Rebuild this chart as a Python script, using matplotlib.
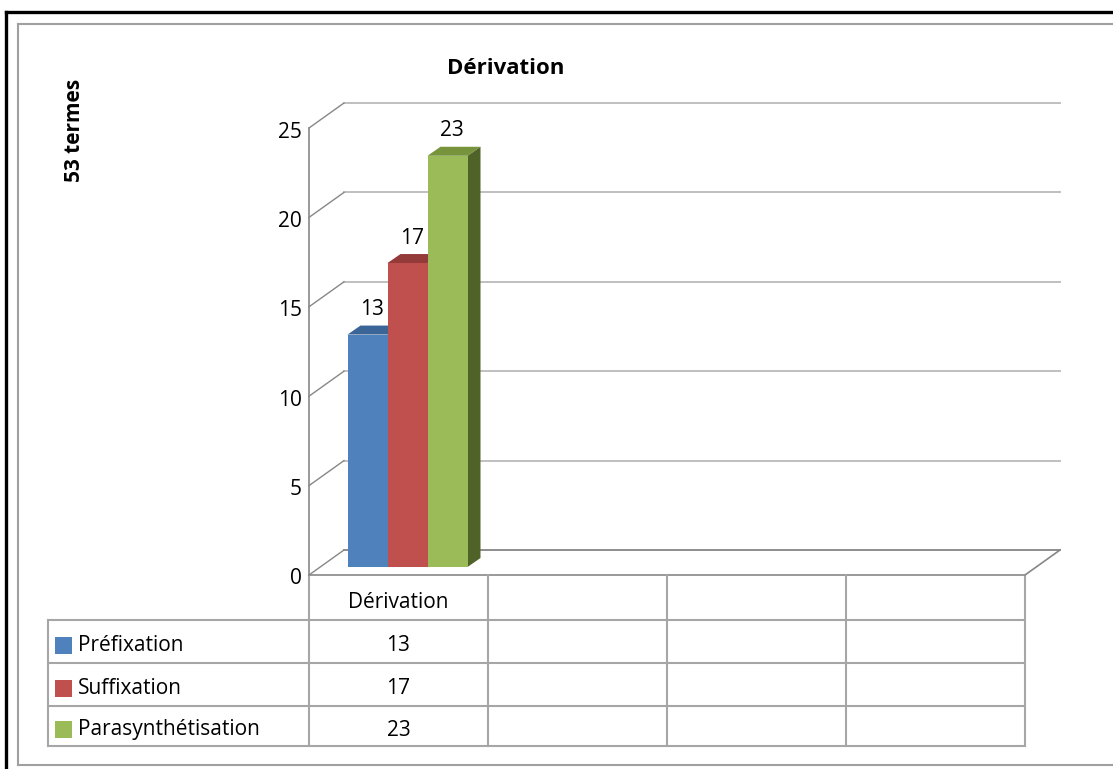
import matplotlib.pyplot as plt
from matplotlib.patches import Polygon, Rectangle

# data
categories = ["Dérivation", "", "", ""]
series = ["Préfixation", "Suffixation", "Parasynthétisation"]
values = [13, 17, 23]
y_ticks = [0, 5, 10, 15, 20, 25]
title = "Dérivation"
y_label = "53 termes"

front_colors = ["#4F81BD", "#C0504D", "#9BBB59"]
top_colors = ["#3B6597", "#943B39", "#77933C"]
side_colors = ["#2C4D75", "#772C2A", "#4F6228"]

W, H = 1113, 769
plt.rcParams['font.family'] = ['Open Sans', 'DejaVu Sans']

fig = plt.figure(figsize=(W / 100, H / 100), dpi=100)

# full-figure overlay in pixel coords (frame, table, titles)
bg = fig.add_axes([0, 0, 1, 1])
bg.set_xlim(0, W)
bg.set_ylim(H, 0)
bg.axis('off')

# front plane of the 3d plot
PX0, PX1, PY0, PY1 = 309, 1025, 575, 128
ymax = y_ticks[-1]
ax = fig.add_axes([PX0 / W, 1 - PY0 / H, (PX1 - PX0) / W, (PY0 - PY1) / H])
ax.set_xlim(0, len(categories))
ax.set_ylim(0, ymax)
ax.axis('off')

sx = len(categories) / (PX1 - PX0)   # data units per pixel
sy = ymax / (PY0 - PY1)
bx, by = 35 * sx, 25 * sy             # back wall depth
fx, fy = 11 * sx, 8 * sy              # bar front plane
ddx, ddy = 13 * sx, 9 * sy            # bar depth

grid_c = '#BFBFBF'
axis_c = '#878787'

# back wall gridlines + side wall diagonals
for t in y_ticks:
    ax.plot([bx, len(categories) + bx], [t + by, t + by], color=grid_c, lw=1.4, clip_on=False)
    ax.plot([0, bx], [t, t + by], color=axis_c, lw=1.0, clip_on=False)
    ax.text(-7 * sx, t - 4 * sy, str(t), ha='right', va='center', fontsize=15, clip_on=False)
ax.plot([0, 0], [0, ymax], color=axis_c, lw=1.2, clip_on=False)

# floor
n = len(categories)
ax.plot([bx, n + bx], [by, by], color=axis_c, lw=1.2, clip_on=False)
ax.plot([n, n + bx], [0, by], color=axis_c, lw=1.2, clip_on=False)

# bars
bw = 40 * sx
center = 0.5 - 2 * sx
for i, v in enumerate(values):
    xl = center - 1.5 * bw + i * bw + fx
    top = v + fy
    ax.add_patch(Polygon([(xl + bw, fy), (xl + bw, top), (xl + bw + ddx, top + ddy), (xl + bw + ddx, fy + ddy)],
                         closed=True, fc=side_colors[i], lw=0, clip_on=False, zorder=2.5))
    ax.bar(xl, v, bw, bottom=fy, align='edge', color=front_colors[i], lw=0, clip_on=False, zorder=3)
    ax.add_patch(Polygon([(xl, top), (xl + bw, top), (xl + bw + ddx, top + ddy), (xl + ddx, top + ddy)],
                         closed=True, fc=top_colors[i], lw=0, clip_on=False, zorder=3))
    ax.annotate(str(v), (xl + bw / 2 + ddx / 3, top + ddy), xytext=(0, 16), textcoords='offset pixels',
                ha='center', va='center', fontsize=15, annotation_clip=False)

# data table
tab_c = '#A6A6A6'
col_w = (PX1 - PX0) / n
col_x = [PX0 + k * col_w for k in range(n + 1)]
row_y = [575, 620, 663, 706, 746]
LEG_X = 48
for yy in row_y[1:]:
    bg.plot([LEG_X, PX1], [yy, yy], color=tab_c, lw=1.5)
bg.plot([PX0, PX1], [row_y[0], row_y[0]], color=axis_c, lw=1.2)
bg.plot([LEG_X, LEG_X], [row_y[1], row_y[-1]], color=tab_c, lw=1.5)
for xx in col_x:
    bg.plot([xx, xx], [row_y[0], row_y[-1]], color=tab_c, lw=1.5)

for k, cat in enumerate(categories):
    bg.text((col_x[k] + col_x[k + 1]) / 2, (row_y[0] + row_y[1]) / 2 + 5, cat,
            ha='center', va='center', fontsize=15)
for i, name in enumerate(series):
    yc = (row_y[i + 1] + row_y[i + 2]) / 2 + 4
    bg.add_patch(Rectangle((55, yc - 9), 17, 17, fc=front_colors[i], lw=0))
    bg.text(78, yc, name, ha='left', va='center', fontsize=15)
    bg.text((col_x[0] + col_x[1]) / 2, yc, str(values[i]), ha='center', va='center', fontsize=15)

# titles
bg.text(506, 68, title, ha='center', va='center', fontsize=16, fontweight='bold')
bg.text(74, 130, y_label, ha='center', va='center', rotation=90, fontsize=15, fontweight='bold')

# outer frames
bg.plot([6, 6], [12, H], color='black', lw=2.4)
bg.plot([6, W], [12, 12], color='black', lw=2.4)
bg.plot([18, 18], [24, 765], color='#A0A0A0', lw=1.5)
bg.plot([18, W], [24, 24], color='#A0A0A0', lw=1.5)
bg.plot([18, W], [765, 765], color='#A0A0A0', lw=1.5)

fig.savefig('out.png', dpi=100)
